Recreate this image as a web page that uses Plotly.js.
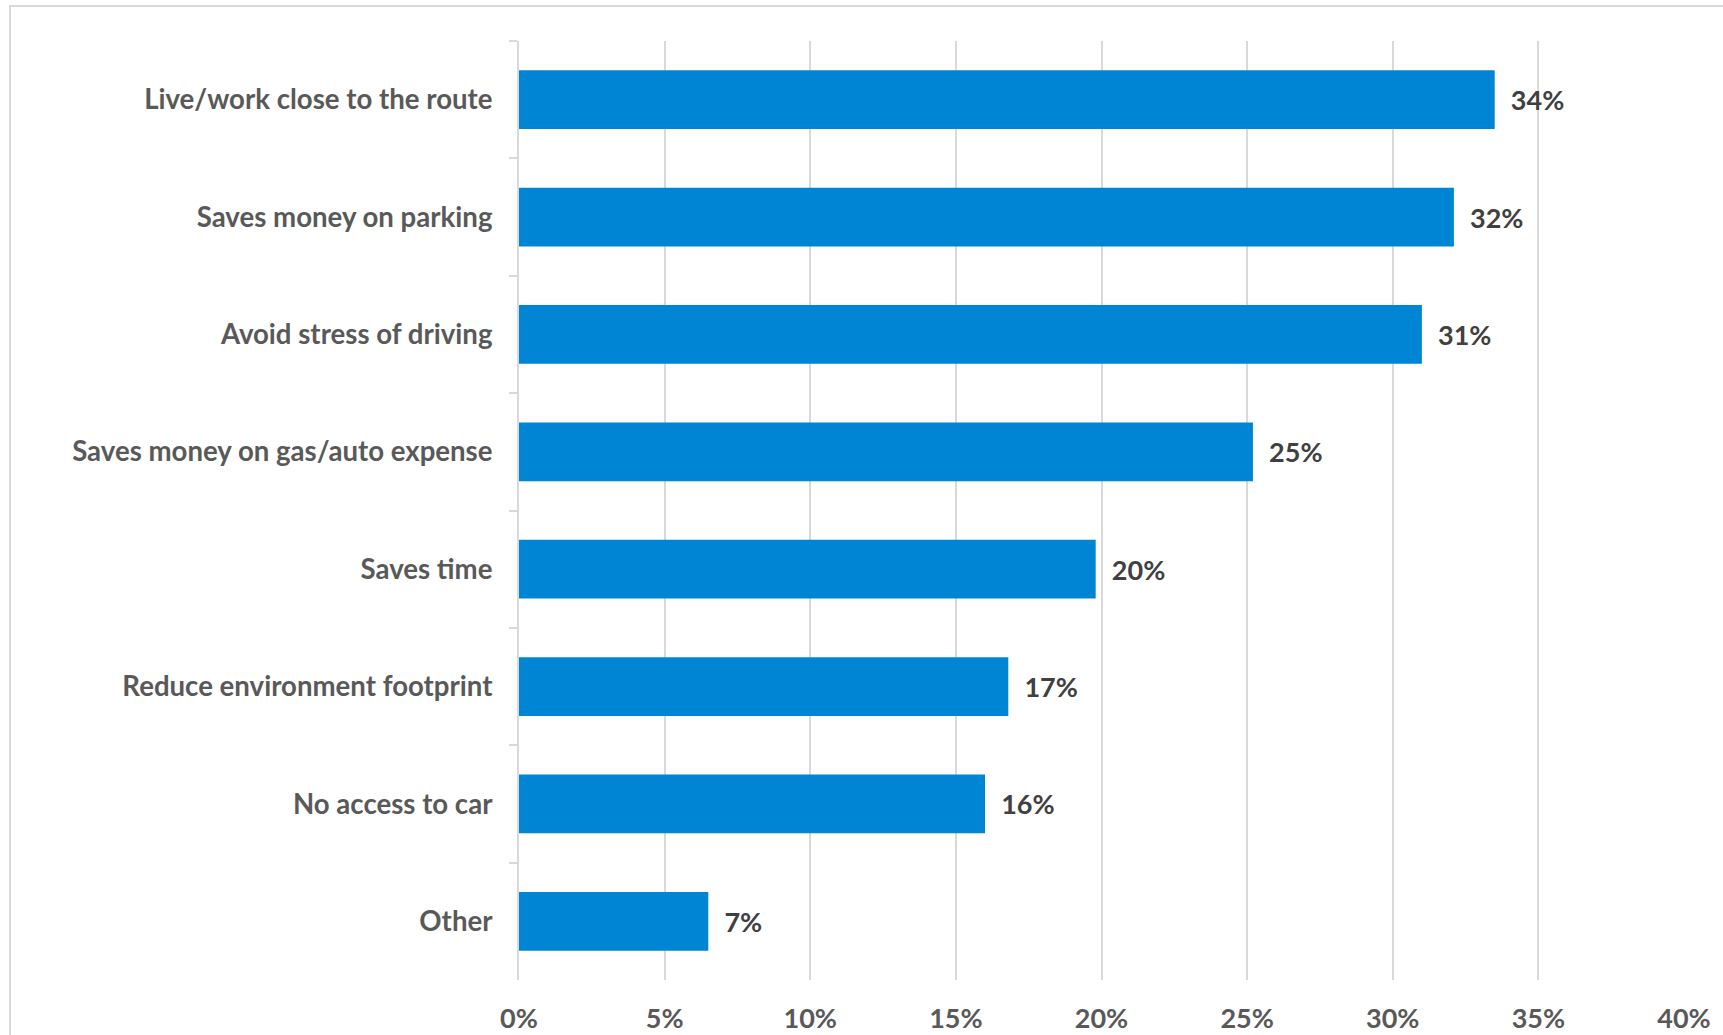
<!DOCTYPE html>
<html>
<head>
<meta charset="utf-8">
<script src="https://cdn.plot.ly/plotly-3.0.1.min.js"></script>
<style>
html,body{margin:0;padding:0;background:#fff;overflow:hidden;}
#chart{width:1723px;height:1035px;}
#frame{position:absolute;left:9px;top:5px;width:1800px;height:1100px;border:2px solid #d9d9d9;pointer-events:none;}
</style>
</head>
<body>
<div id="chart"></div>
<div id="frame"></div>
<script>
const categories = [
  "Live/work close to the route",
  "Saves money on parking",
  "Avoid stress of driving",
  "Saves money on gas/auto expense",
  "Saves time",
  "Reduce environment footprint",
  "No access to car",
  "Other"
];
const values = [0.335, 0.321, 0.310, 0.252, 0.198, 0.168, 0.160, 0.065];
const valueLabels = ["34%", "32%", "31%", "25%", "20%", "17%", "16%", "7%"];
const xTickVals = [0, 0.05, 0.10, 0.15, 0.20, 0.25, 0.30, 0.35, 0.40];
const xTickText = ["0%", "5%", "10%", "15%", "20%", "25%", "30%", "35%", "40%"];

const FONT = "Lato, 'Open Sans', sans-serif";

const trace = {
  type: "bar",
  orientation: "h",
  y: categories,
  x: values,
  text: valueLabels,
  texttemplate: "\u00a0\u00a0%{text}",
  textposition: "outside",
  cliponaxis: false,
  textfont: {family: FONT, size: 27, color: "#404040", weight: "bold"},
  marker: {color: "#0085D5"},
  width: 0.5,
  hoverinfo: "skip"
};

const layout = {
  width: 1723,
  height: 1035,
  margin: {l: 519, r: 39, t: 41, b: 55},
  paper_bgcolor: "#ffffff",
  plot_bgcolor: "#ffffff",
  showlegend: false,
  font: {family: FONT},
  xaxis: {
    range: [0, 0.40],
    tickvals: xTickVals,
    ticktext: xTickText,
    showgrid: true,
    gridcolor: "#d9d9d9",
    gridwidth: 2,
    zeroline: false,
    showline: false,
    ticks: "",
    ticklabelstandoff: 20,
    tickfont: {family: FONT, size: 27, color: "#595959", weight: "bold"},
    fixedrange: true
  },
  yaxis: {
    type: "category",
    autorange: "reversed",
    showline: true,
    linecolor: "#d9d9d9",
    linewidth: 2,
    ticks: "outside",
    tickson: "boundaries",
    ticklen: 8,
    tickwidth: 2,
    tickcolor: "#d9d9d9",
    ticklabelstandoff: 19,
    showgrid: false,
    tickfont: {family: FONT, size: 27.6, color: "#595959", weight: "bold"},
    fixedrange: true
  },
  bargap: 0.5
};

Plotly.newPlot("chart", [trace], layout, {displayModeBar: false, staticPlot: true});
</script>
</body>
</html>
